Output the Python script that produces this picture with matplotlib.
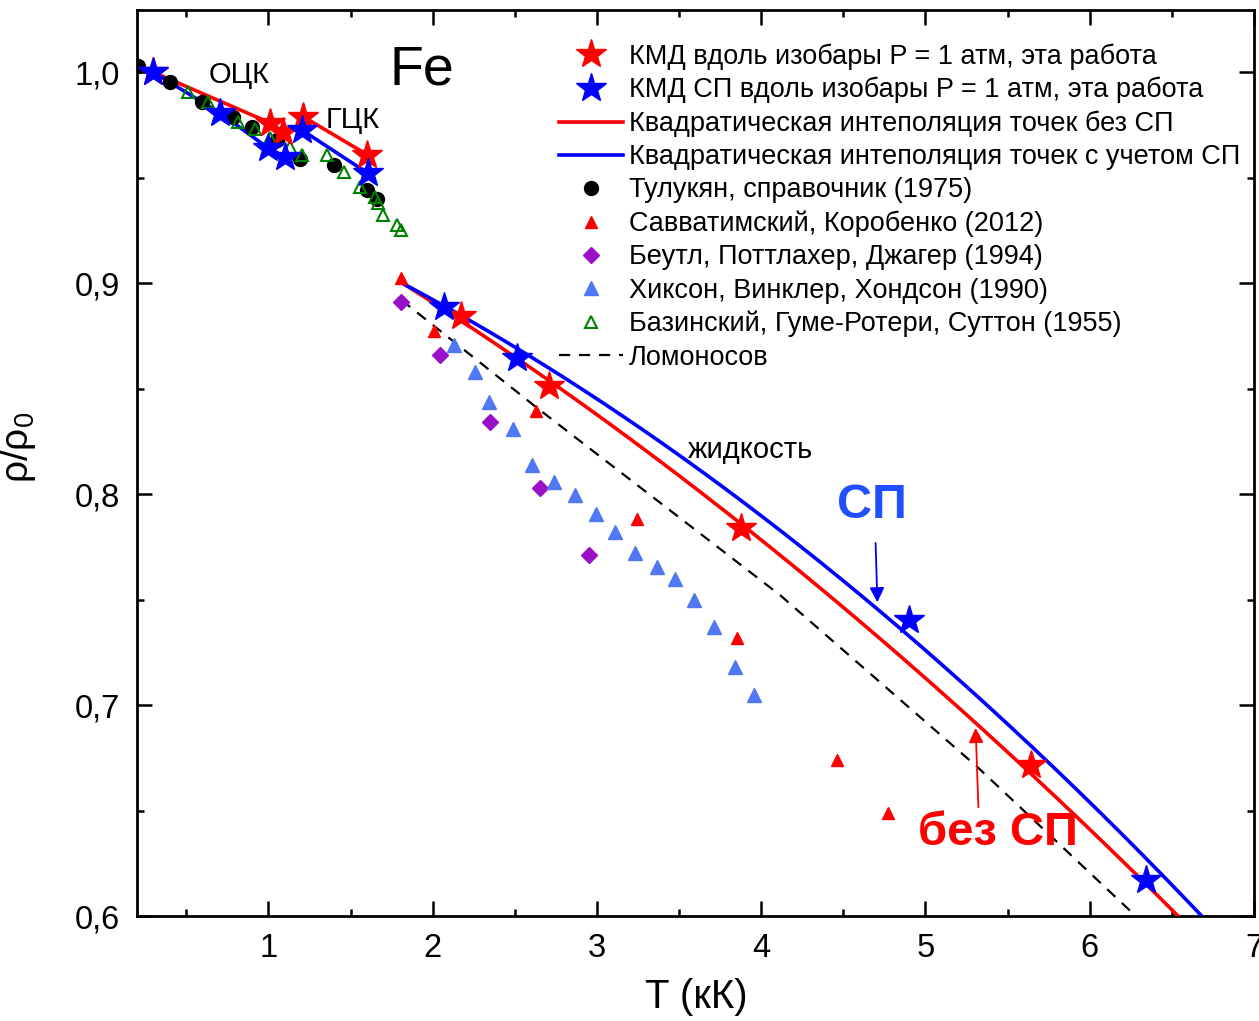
import numpy as np
import matplotlib
matplotlib.use('Agg')
import matplotlib.pyplot as plt
from matplotlib.ticker import MultipleLocator, FuncFormatter

plt.rcParams['font.family'] = ['Liberation Sans', 'DejaVu Sans']
plt.rcParams['mathtext.fontset'] = 'custom'
plt.rcParams['mathtext.rm'] = 'Liberation Sans'
plt.rcParams['mathtext.it'] = 'Liberation Sans'

# KMD stars (this work), solid BCC / FCC branches and liquid
red_bcc_T = [0.30, 1.01, 1.09]
red_bcc_r = [1.000, 0.976, 0.9716]
red_fcc_T = [1.21, 1.60]
red_fcc_r = [0.979, 0.961]
red_liq_T = [2.174, 2.71, 3.88, 5.64]
red_liq_r = [0.8844, 0.8512, 0.7839, 0.6716]

blue_bcc_T = [0.30, 0.706, 1.00, 1.10]
blue_bcc_r = [1.000, 0.9806, 0.964, 0.960]
blue_fcc_T = [1.206, 1.608]
blue_fcc_r = [0.9725, 0.952]
blue_liq_T = [2.07, 2.515, 4.90, 6.34]
blue_liq_r = [0.8886, 0.8645, 0.7403, 0.617]

# points (liquid)
red_fit_T = [1.821, 3.325, 3.879, 4.622, 5.292, 5.627, 6.510]
red_fit_r = [0.900, 0.8194, 0.7839, 0.7403, 0.6896, 0.6716, 0.6014]
blue_fit_T = [1.821, 3.325, 3.873, 4.708, 5.700, 6.650]
blue_fit_r = [0.9014, 0.8256, 0.7938, 0.7488, 0.680, 0.600]

# reference data
tul_T = [0.206, 0.40, 0.597, 0.786, 0.90, 1.05, 1.19, 1.40, 1.60, 1.66]
tul_r = [1.003, 0.9953, 0.9858, 0.9787, 0.974, 0.968, 0.959, 0.956, 0.944, 0.940]

sav_T = [1.81, 2.01, 2.63, 3.246, 3.855, 4.46, 4.77]
sav_r = [0.9024, 0.8773, 0.8393, 0.7882, 0.7318, 0.674, 0.6488]

beu_T = [1.81, 2.046, 2.35, 2.655, 2.954]
beu_r = [0.891, 0.8659, 0.834, 0.8028, 0.7711]

hix_T = [2.127, 2.256, 2.346, 2.49, 2.604, 2.736, 2.864, 2.996, 3.108, 3.234,
         3.366, 3.477, 3.589, 3.715, 3.843, 3.954]
hix_r = [0.8706, 0.858, 0.8438, 0.8311, 0.8137, 0.8058, 0.7995, 0.7908, 0.7821,
         0.7719, 0.7656, 0.76, 0.7498, 0.7371, 0.7182, 0.7047]

baz_T = [0.513, 0.635, 0.818, 0.92, 1.01, 1.133, 1.204, 1.356, 1.458, 1.559,
         1.65, 1.67, 1.70, 1.78, 1.81]
baz_r = [0.9907, 0.9859, 0.9765, 0.9733, 0.9686, 0.9646, 0.9607, 0.9607, 0.9528,
         0.9457, 0.941, 0.9378, 0.9322, 0.9275, 0.925]

lom_T = [1.81, 2.637, 4.117, 4.22, 5.317, 6.28]
lom_r = [0.892, 0.8408, 0.752, 0.745, 0.6706, 0.600]

fig = plt.figure(figsize=(12.59, 10.21), dpi=100)
ax = fig.add_axes([0.1088, 0.1028, 0.8872, 0.8872])

RED = '#ff0000'
BLUE = '#0000ff'
lw = 2.6

# quadratic interpolation lines
tt = np.linspace(red_fit_T[0], 7.0, 300)
pr = np.polyfit(red_fit_T, red_fit_r, 2)
pb = np.polyfit(blue_fit_T, blue_fit_r, 2)
ax.plot(red_bcc_T, red_bcc_r, color=RED, lw=lw, zorder=3)
ax.plot(red_fcc_T, red_fcc_r, color=RED, lw=lw, zorder=3)
ax.plot(tt, np.polyval(pr, tt), color=RED, lw=lw, zorder=3,
        label='Квадратическая интеполяция точек без СП')
ax.plot(blue_bcc_T, blue_bcc_r, color=BLUE, lw=lw, zorder=3)
ax.plot(blue_fcc_T, blue_fcc_r, color=BLUE, lw=lw, zorder=3)
ax.plot(tt, np.polyval(pb, tt), color=BLUE, lw=lw, zorder=3,
        label='Квадратическая интеполяция точек с учетом СП')

ax.plot(lom_T, lom_r, color='black', lw=1.6, ls=(0, (5, 4)), zorder=2,
        label='Ломоносов')

# reference points
ax.plot(tul_T, tul_r, 'o', color='black', ms=10, ls='none', zorder=4,
        label='Тулукян, справочник (1975)')
ax.plot(sav_T, sav_r, '^', color=RED, ms=8, ls='none', zorder=4,
        label='Савватимский, Коробенко (2012)')
ax.plot(beu_T, beu_r, 'D', color='#9a10c8', ms=8, ls='none', zorder=4,
        label='Беутл, Поттлахер, Джагер (1994)')
ax.plot(hix_T, hix_r, '^', color='#5078f2', ms=10, ls='none', zorder=4,
        label='Хиксон, Винклер, Хондсон (1990)')
ax.plot(baz_T, baz_r, '^', mfc='none', mec='#008000', mew=1.5, ms=9, ls='none',
        zorder=4, label='Базинский, Гуме-Ротери, Суттон (1955)')

# KMD stars
ax.plot(red_bcc_T + red_fcc_T + red_liq_T, red_bcc_r + red_fcc_r + red_liq_r,
        '*', color=RED, ms=22, ls='none', zorder=5,
        label='КМД вдоль изобары P = 1 атм, эта работа')
ax.plot(blue_bcc_T + blue_fcc_T + blue_liq_T, blue_bcc_r + blue_fcc_r + blue_liq_r,
        '*', color=BLUE, ms=22, ls='none', zorder=6,
        label='КМД СП вдоль изобары P = 1 атм, эта работа')

ax.set_xlim(0.2, 7.0)
ax.set_ylim(0.6, 1.0294)

# annotations
ax.text(1.937, 1.0009, 'Fe', fontsize=40, ha='center', va='center')
ax.text(0.822, 0.9986, 'ОЦК', fontsize=21, ha='center', va='center')
ax.text(1.516, 0.9773, 'ГЦК', fontsize=21, ha='center', va='center')
ax.text(3.934, 0.8209, 'жидкость', fontsize=21, ha='center', va='center')
ax.text(4.677, 0.7948, 'СП', fontsize=35, fontweight='bold', color='#1f4fff',
        ha='center', va='center')
ax.text(5.439, 0.6393, 'без СП', fontsize=34, fontweight='bold', color=RED,
        ha='center', va='center')
ax.annotate('', xy=(4.708, 0.7474), xytext=(4.696, 0.7782),
            arrowprops=dict(arrowstyle='-|>', color=BLUE, lw=1.3, mutation_scale=22))
ax.annotate('', xy=(5.305, 0.6905), xytext=(5.323, 0.6502),
            arrowprops=dict(arrowstyle='-|>', color=RED, lw=1.3, mutation_scale=22))

# axes styling
ax.xaxis.set_major_locator(MultipleLocator(1))
ax.xaxis.set_minor_locator(MultipleLocator(0.5))
ax.yaxis.set_major_locator(MultipleLocator(0.1))
ax.yaxis.set_minor_locator(MultipleLocator(0.05))
ax.yaxis.set_major_formatter(FuncFormatter(lambda v, p: f'{v:.1f}'.replace('.', ',')))
ax.xaxis.set_major_formatter(FuncFormatter(lambda v, p: f'{v:.0f}'))
ax.tick_params(which='both', direction='in', top=True, right=True, width=1.8,
               labelsize=23.5)
ax.tick_params(which='major', length=11, pad=12)
ax.tick_params(which='minor', length=5)
for s in ax.spines.values():
    s.set_linewidth(2.0)

ax.set_xlabel('T (кК)', fontsize=29)
ax.xaxis.set_label_coords(0.501, -0.068)
ax.set_ylabel(r'ρ/ρ$_0$', fontsize=28)
ax.yaxis.set_label_coords(-0.0886, 0.518)

h, l = ax.get_legend_handles_labels()
order = [8, 9, 0, 1, 3, 4, 5, 6, 7, 2]
leg = ax.legend([h[i] for i in order], [l[i] for i in order], loc='upper left',
                bbox_to_anchor=(0.3636, 0.9816), frameon=False, fontsize=19.5,
                handlelength=2.36, handletextpad=0.22, labelspacing=0.267,
                borderaxespad=0.2, numpoints=1)

fig.savefig('out.png', dpi=100)
